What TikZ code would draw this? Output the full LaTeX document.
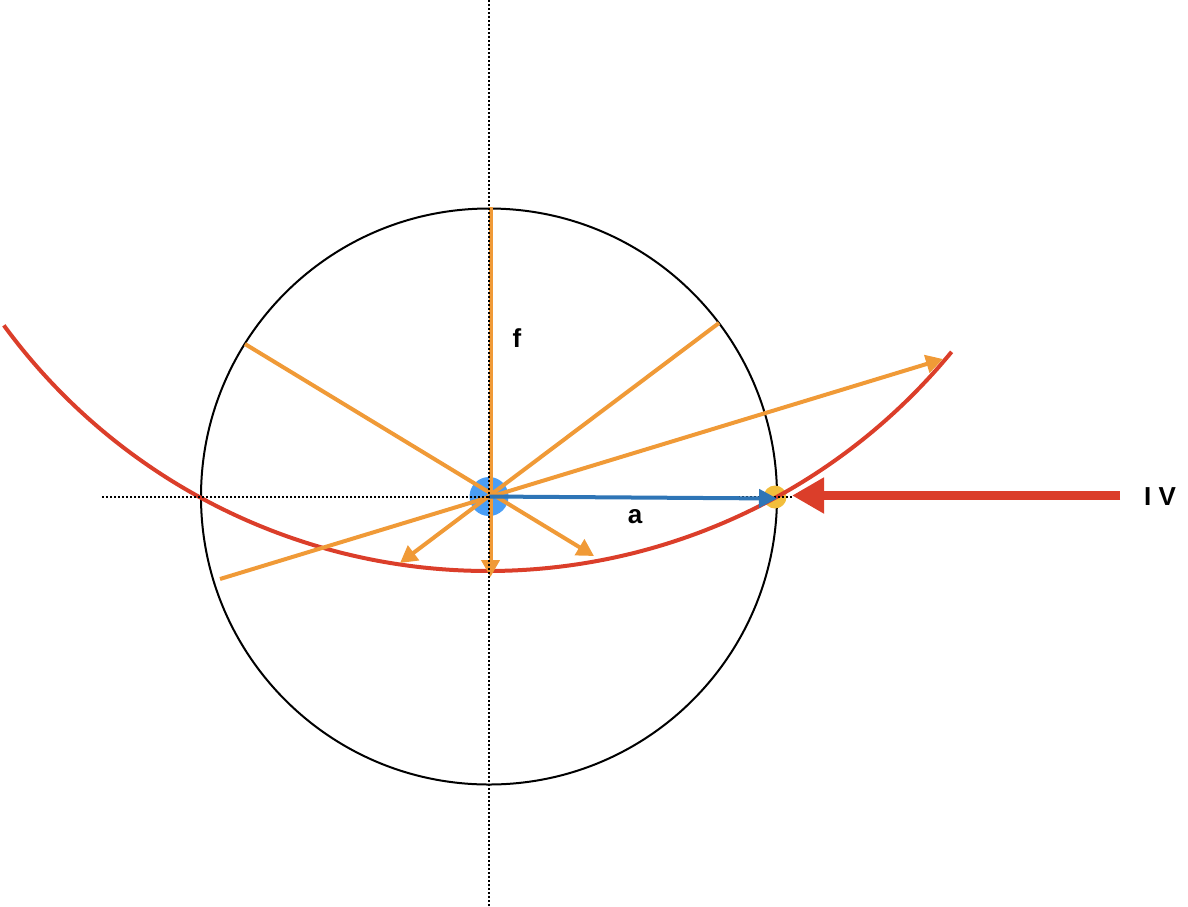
\documentclass[tikz,border=0pt]{standalone}
\usepackage{fontspec}
\setmainfont{Liberation Sans}
\usetikzlibrary{arrows.meta}
\definecolor{orng}{RGB}{240,154,55}
\definecolor{rd}{RGB}{219,62,42}
\definecolor{bluedot}{RGB}{74,158,245}
\definecolor{bluearr}{RGB}{46,117,182}
\definecolor{yel}{RGB}{242,190,60}
\tikzset{
  ray/.style={draw=orng,line width=4pt},
  rayarrow/.style={ray,-{Triangle[length=17pt,width=18pt]}},
  guide/.style={draw=black,line width=2pt,dash pattern=on 2pt off 2pt},
  lbl/.style={font=\bfseries\fontsize{26}{30}\selectfont,inner sep=0pt},
}
\begin{document}
\begin{tikzpicture}[x=1pt,y=1pt]
\useasboundingbox (0,0) rectangle (1188,-906);
% named points
\coordinate (O) at (489,-496.5);
\coordinate (Ctop) at (490.5,-207);
\coordinate (Cbot) at (490.5,-577);
\coordinate (UL) at (245,-344);
\coordinate (DR) at (594,-556);
\coordinate (UR) at (719,-323);
\coordinate (DL) at (400,-563);
\coordinate (LL) at (220,-579);
\coordinate (FR) at (943,-359);
\coordinate (P) at (775,-497);
\coordinate (Bt) at (777,-498.5);
\coordinate (Rtail) at (1120,-495.5);
\coordinate (Rtip) at (792,-495.5);
\coordinate (Vtop) at (488.5,0);
\coordinate (Vbot) at (488.5,-906);
\coordinate (Hl) at (102,-497);
\coordinate (Hr) at (792,-497);
\coordinate (AC) at (488,29);
% circle
\draw[black,line width=2pt] (O) circle (288);
% dots
\fill[yel] (P) circle (11.5);
\fill[bluedot] (O) circle (19.5);
% red arc
\draw[rd,line width=4pt] ([shift={(216.2:600pt)}]AC) arc[start angle=216.2,end angle=320.6,radius=600pt];
% orange rays
\draw[rayarrow] (Ctop) -- (Cbot);
\draw[rayarrow] (UL) -- (DR);
\draw[rayarrow] (UR) -- (DL);
\draw[rayarrow] (LL) -- (FR);
% horizontal guide
\draw[guide] (Hl) -- (Hr);
% blue arrow
\draw[bluearr,line width=4pt,-{Triangle[length=18pt,width=18pt]}] (O) -- (Bt);
% big red arrow
\draw[rd,line width=8.5pt,-{Triangle[length=32pt,width=34pt]}] (Rtail) -- (Rtip);
% vertical guide
\draw[guide] (Vtop) -- (Vbot);
% labels
\node[lbl] (f) at (517,-338) {f};
\node[lbl] (a) at (635,-517) {a};
\node[lbl] (iv) at (1160,-497) {I V};
\end{tikzpicture}
\end{document}
